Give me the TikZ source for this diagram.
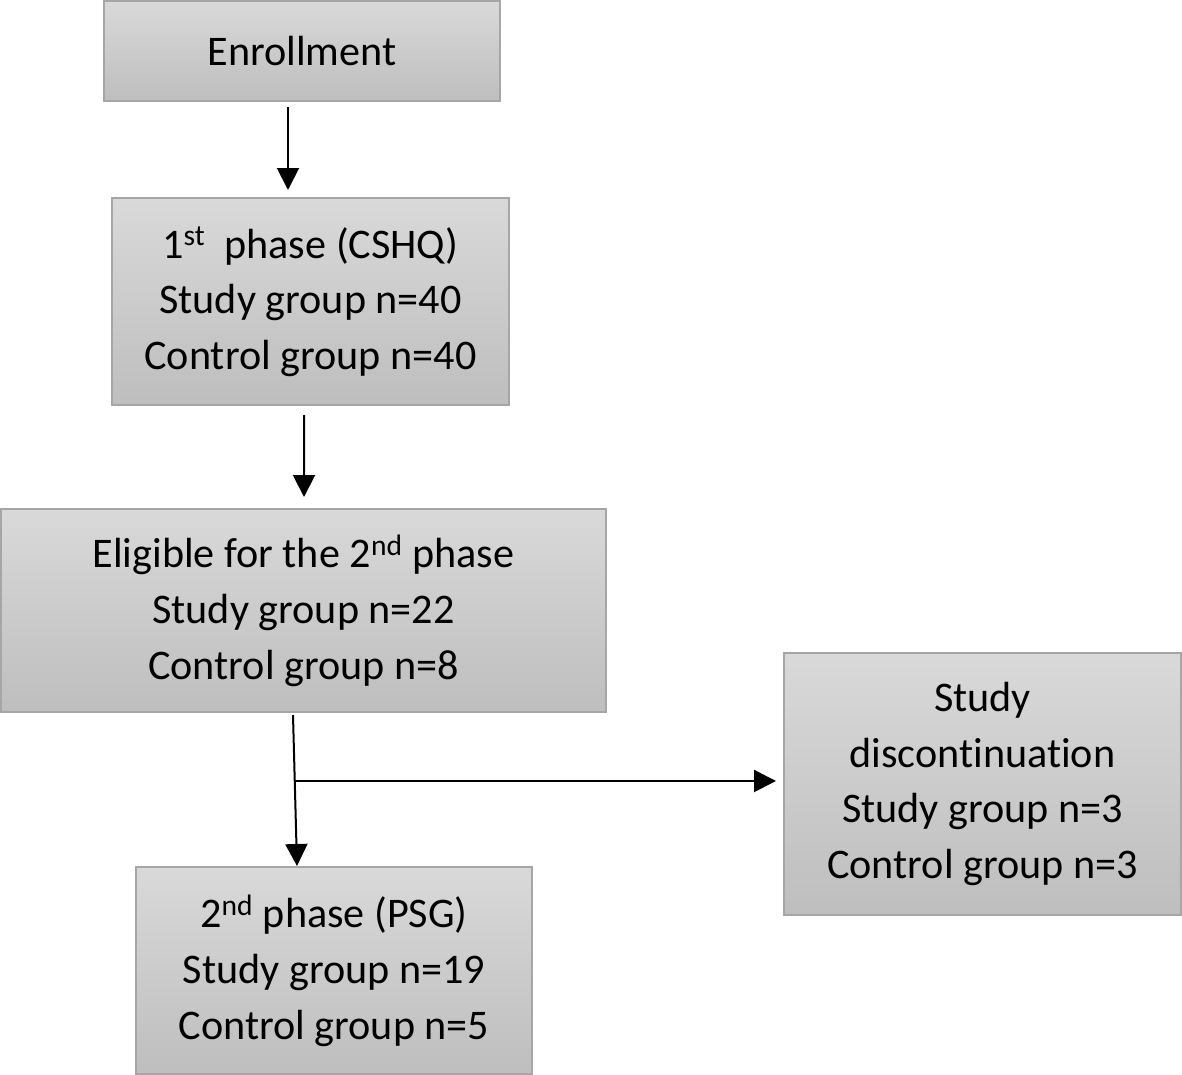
\documentclass[tikz,border=0pt]{standalone}
\usepackage{fontspec}
\setmainfont{Carlito}[Ligatures=NoCommon]
\usetikzlibrary{arrows.meta, positioning, calc}
\definecolor{boxtop}{RGB}{217, 217, 217}
\definecolor{boxbottom}{RGB}{190, 190, 190}
\definecolor{boxline}{RGB}{166, 166, 166}

\begin{document}
\begin{tikzpicture}[
    box/.style={rectangle, draw=boxline, line width=0.05cm, top color=boxtop, bottom color=boxbottom,
        minimum width=9.9cm, minimum height=5.175cm, align=center, inner sep=0pt, outer sep=0pt,
        font=\fontsize{30}{39.5}\selectfont},
    arrow/.style={line width=0.05cm, -{Triangle[length=0.55cm, width=0.55cm]}}
]
\useasboundingbox (0,0) rectangle (29.55,-26.875);

% Boxes
\node[box, minimum height=2.5cm] (enroll) at (7.55,-1.275) {Enrollment};
\node[box, minimum width=9.925cm, below=2.425cm of enroll, xshift=0.2125cm] (phase1) {1\textsuperscript{st}~ phase (CSHQ)\\Study group n=40\\Control group n=40};
\node[box, minimum width=15.125cm, minimum height=5.075cm, below=2.6cm of phase1, xshift=-0.175cm] (elig) {Eligible for the 2\textsuperscript{nd} phase\\Study group n=22\\Control group n=8};
\node[box, below=3.875cm of elig, xshift=0.7625cm] (phase2) {2\textsuperscript{nd} phase (PSG)\\Study group n=19\\Control group n=5};
\node[box, minimum width=9.925cm, minimum height=6.55cm, right=4.45cm of elig, yshift=-4.3375cm] (discont) {Study\\discontinuation\\Study group n=3\\Control group n=3};

% Arrows
\draw[arrow] ([xshift=-0.35cm, yshift=-0.15cm]enroll.south) -- ([xshift=-0.5625cm, yshift=0.2cm]phase1.north);
\draw[arrow] ([xshift=-0.1625cm, yshift=-0.25cm]phase1.south) -- ([xshift=0.0125cm, yshift=0.3cm]elig.north);
\draw[arrow] ([xshift=-0.2625cm, yshift=-0.075cm]elig.south) coordinate (from) -- ([xshift=-0.925cm, yshift=0.025cm]phase2.north) coordinate (to);
\coordinate (split) at ($(from)!0.437!(to)$);
\draw[arrow] (split) -- ([xshift=-0.2cm]split -| discont.west);

\end{tikzpicture}
\end{document}
